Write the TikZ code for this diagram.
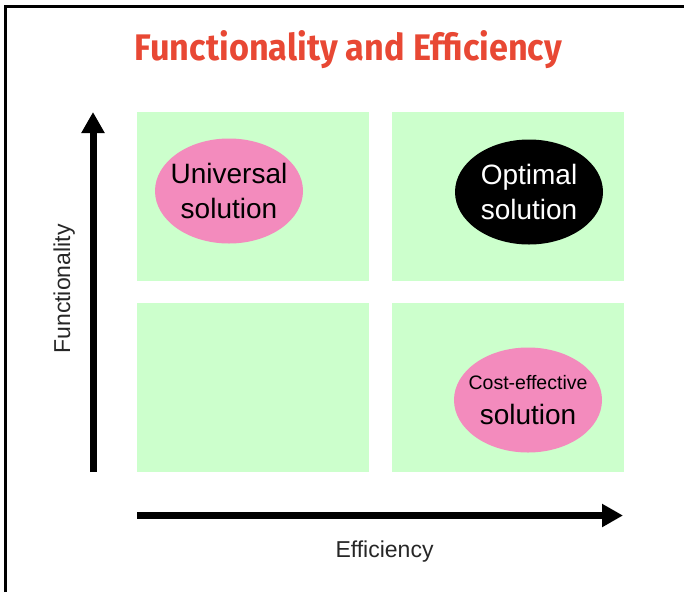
\documentclass[tikz,border=0pt]{standalone}
\usepackage{fontspec}
\setmainfont{Liberation Sans}
\newfontfamily\titlefont{Fira Sans}
\usetikzlibrary{arrows.meta,shapes.geometric}
\definecolor{quadgreen}{RGB}{204,255,204}
\definecolor{blobpink}{RGB}{243,139,189}
\definecolor{titlered}{RGB}{232,72,52}

\begin{document}
\begin{tikzpicture}[x = 1pt, y = -1pt,
                     quad/.style = {rectangle, fill = quadgreen, minimum width = 232pt, minimum height = 169pt, inner sep = 0pt},
                     blob/.style = {ellipse, fill = blobpink, minimum width = 148pt, minimum height = 105pt,
                                    inner xsep = -14pt, inner ysep = 0pt,
                                    align = center, font = \fontsize{28}{35}\selectfont},
                     axis/.style = {line width = 7pt, -{Triangle[width = 22pt, length = 21pt]}}]
    \useasboundingbox (0, 0) rectangle (684, 592);
    \draw [line width = 3pt] (5.5, 592) -- (5.5, 6.5) -- (684, 6.5);
    \node [anchor = base, text = titlered] (title) at (348.5, 60){\resizebox{427pt}{30pt}{\titlefont\bfseries Functionality and Efficiency}};

    \node [quad] (q1) at (253, 196.5){};
    \node [quad] (q2) at (507.5, 196.5){};
    \node [quad] (q3) at (253, 387.5){};
    \node [quad] (q4) at (507.5, 387.5){};

    \node [blob] (b1) at (229, 191){Universal\\solution};
    \node [blob, fill = black, text = white] (b2) at (529, 192){Optimal\\solution};
    \node [blob] (b3) at (528, 400){{\fontsize{19.5}{23}\selectfont Cost-effective}\\solution};

    \coordinate (ylow) at (93, 472);
    \coordinate (yhigh) at (93, 112);
    \coordinate (xlow) at (137, 515.5);
    \coordinate (xhigh) at (623, 515.5);
    \draw [axis] (ylow) -- (yhigh);
    \draw [axis] (xlow) -- (xhigh);

    \node [rotate = 90, anchor = base, text = black!85, font = \fontsize{23}{28}\selectfont] (ylabel) at (70, 289){Functionality};
    \node [anchor = base, text = black!85, font = \fontsize{23}{28}\selectfont] (xlabel) at (384.5, 557){Efficiency};
\end{tikzpicture}
\end{document}
